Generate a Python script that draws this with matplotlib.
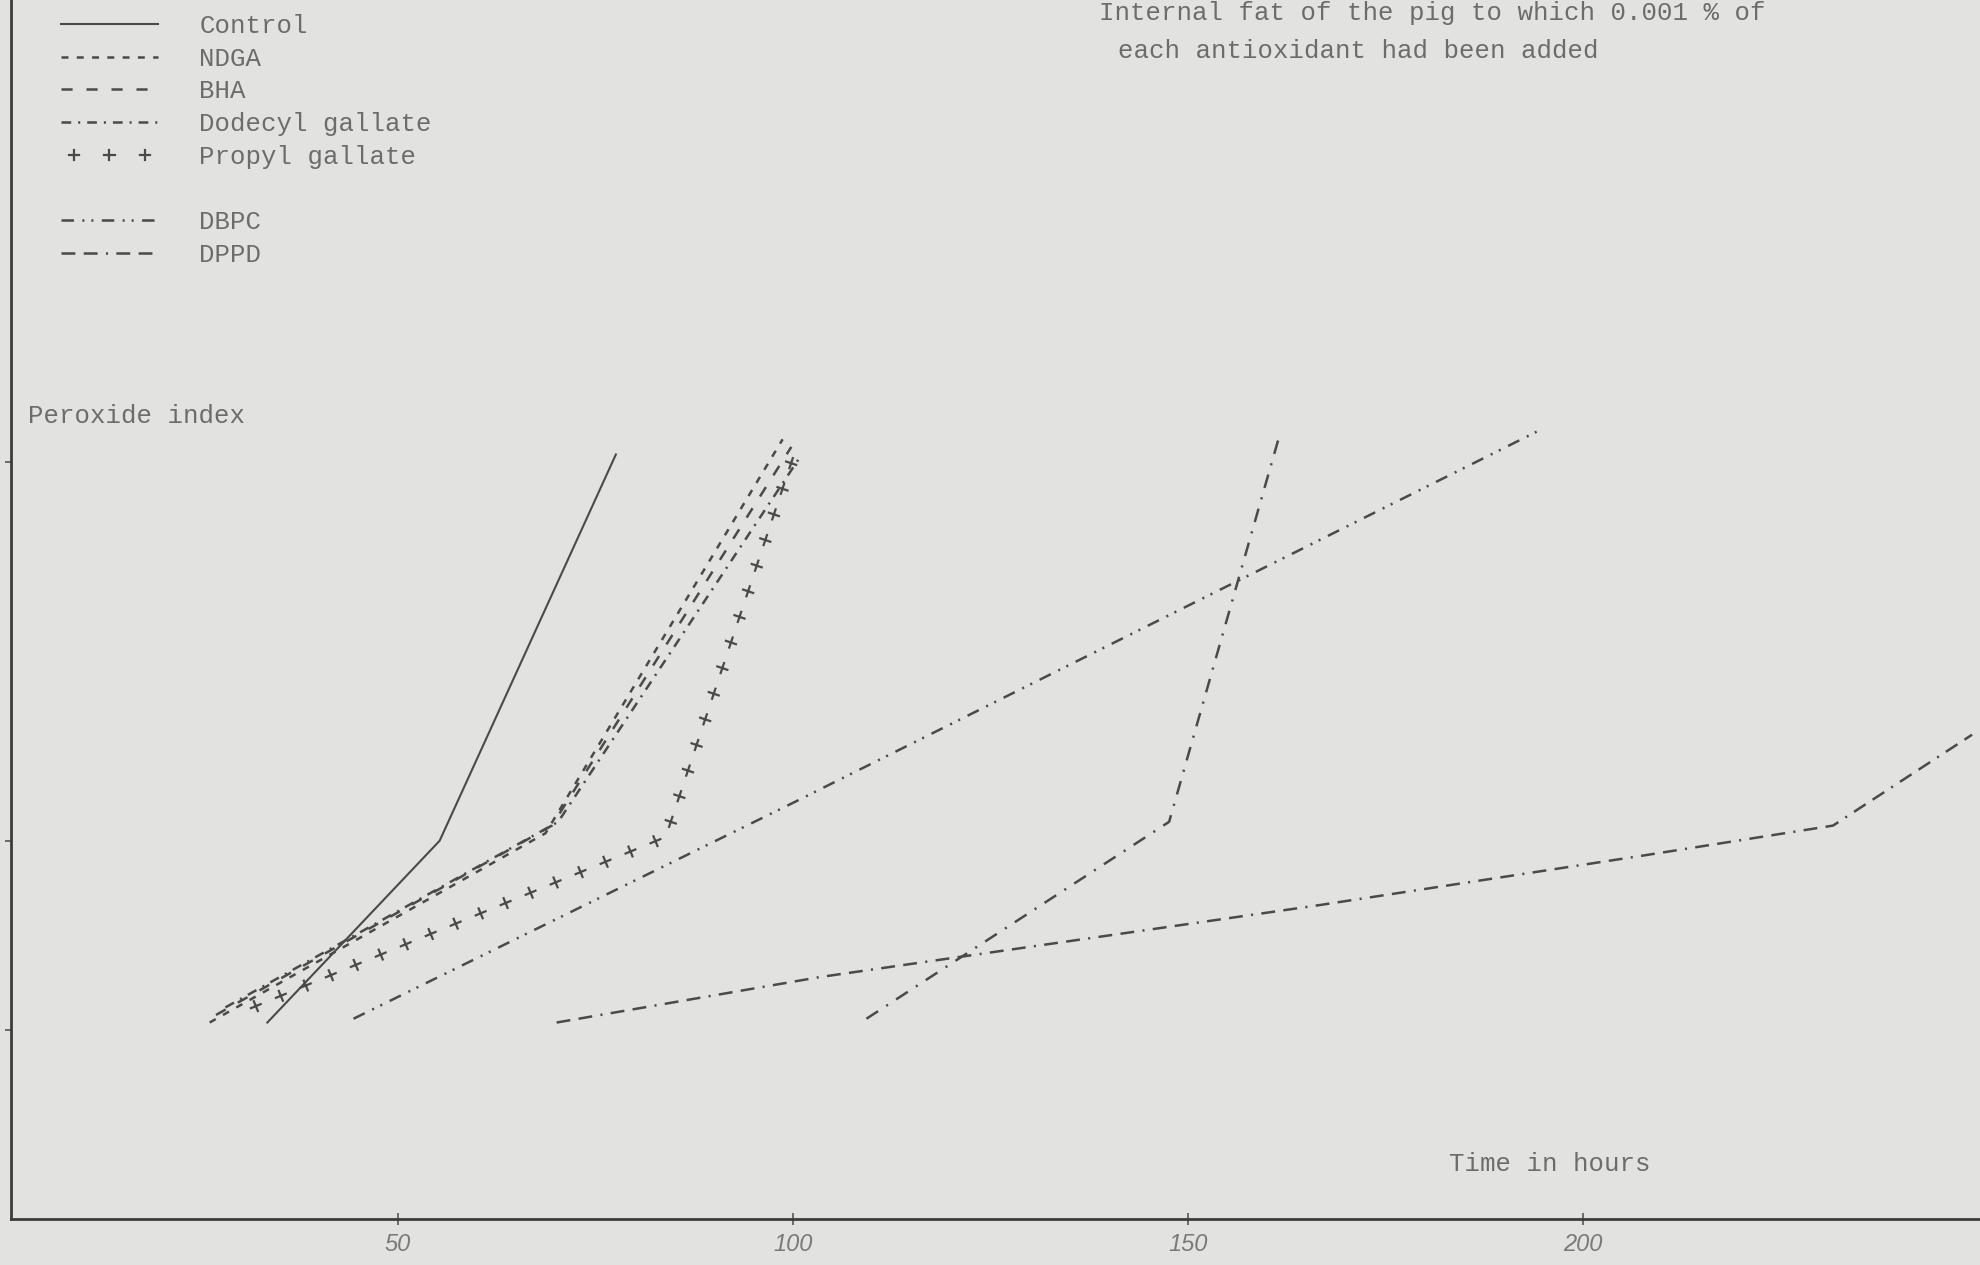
import matplotlib
matplotlib.use("Agg")
import matplotlib.pyplot as plt
import matplotlib.patheffects as pe
from matplotlib.lines import Line2D

# hours on x, peroxide index (arbitrary units) on y
control_t = [33.5, 55.3, 77.6]
control_p = [5.2, 10.0, 20.2]
ndga_t = [26.2, 68.7, 98.7]
ndga_p = [5.2, 10.2, 20.6]
bha_t = [27.0, 69.5, 99.8]
bha_p = [5.4, 10.4, 20.4]
dodecyl_t = [28.2, 70.3, 100.8]
dodecyl_p = [5.6, 10.5, 20.1]
propyl_t = [30.5, 83.9, 100.3]
propyl_p = [5.5, 10.1, 20.3]
dbpc_t = [44.4, 100.0, 194.1]
dbpc_p = [5.3, 11.0, 20.8]
dppd_t = [70.1, 103.4, 166.6, 207.3, 231.6, 249.2]
dppd_p = [5.2, 6.4, 8.3, 9.6, 10.4, 12.8]
# steep curve drawn on the sheet but not listed in the key
extra_t = [109.3, 147.6, 161.7]
extra_p = [5.3, 10.5, 20.8]

x_ticks = [50, 100, 150, 200]
y_ticks = [5, 10, 20]

paper = '#e2e2e0'
ink = '#4a4a4a'
type_ink = '#6c6c6c'
mono = 'Liberation Mono'

plt.rcParams['lines.scale_dashes'] = False

fig = plt.figure(figsize=(19.8, 12.65), dpi=100)
fig.patch.set_facecolor(paper)
ax = fig.add_axes([0.0057, 0.036, 0.9943, 0.964])
ax.set_facecolor(paper)

ax.plot(control_t, control_p, color=ink, lw=1.5, ls='-', label='Control')
ax.plot(ndga_t, ndga_p, color=ink, lw=1.8, ls=(0, (5, 6)), label='NDGA')
ax.plot(bha_t, bha_p, color=ink, lw=1.8, ls=(0, (8, 10)), label='BHA')
ax.plot(dodecyl_t, dodecyl_p, color=ink, lw=1.8, ls=(0, (7, 5, 1.5, 5)),
        label='Dodecyl gallate')

# typed "+" signs along the line
plus = [pe.TickedStroke(spacing=19, angle=a, length=0.2) for a in (0, 90, 180, 270)]
ax.plot(propyl_t, propyl_p, color=ink, lw=1.6, ls='-', path_effects=plus,
        label='Propyl gallate')

blank = Line2D([], [], ls='none', label=' ')

ax.plot(dbpc_t, dbpc_p, color=ink, lw=1.8, ls=(0, (9, 6, 1.5, 5, 1.5, 6)), label='DBPC')
ax.plot(dppd_t, dppd_p, color=ink, lw=1.8, ls=(0, (10, 6, 10, 6, 1.5, 6)), label='DPPD')
ax.plot(extra_t, extra_p, color=ink, lw=1.8, ls=(0, (10, 7, 1.5, 7)), label='_nolegend_')

handles, labels = ax.get_legend_handles_labels()
handles = handles[:5] + [blank] + handles[5:]
labels = labels[:5] + [' '] + labels[5:]
fig.legend(handles, labels, loc='upper left', bbox_to_anchor=(0.0306, 0.989),
           bbox_transform=fig.transFigure, frameon=False, borderpad=0,
           borderaxespad=0, handlelength=3.8, handletextpad=1.6, labelspacing=0.34,
           prop={'family': mono, 'size': 18.5}, labelcolor=type_ink)

ax.set_xlim(1.1, 250.2)
ax.set_ylim(0, 32.2)
for side in ['top', 'right']:
    ax.spines[side].set_visible(False)
for side in ['left', 'bottom']:
    ax.spines[side].set_color('#3c3c3c')
    ax.spines[side].set_linewidth(2.0)

ax.set_xticks(x_ticks)
ax.set_xticklabels([str(t) for t in x_ticks], fontsize=17, style='italic',
                   family='Liberation Sans', color='#7a7a7a')
ax.tick_params(axis='x', direction='inout', length=8, width=1.2, color='#555555', pad=6)
ax.set_yticks(y_ticks)
ax.set_yticklabels([])
ax.tick_params(axis='y', direction='out', length=4, width=1.2, color='#555555')

fig.text(0.555, 0.99, 'Internal fat of the pig to which 0.001 % of',
         family=mono, fontsize=18.5, color=type_ink, va='center', ha='left')
fig.text(0.5644, 0.960, 'each antioxidant had been added',
         family=mono, fontsize=18.5, color=type_ink, va='center', ha='left')
fig.text(0.014, 0.671, 'Peroxide index', family=mono, fontsize=18.5,
         color=type_ink, va='center', ha='left')
fig.text(0.732, 0.080, 'Time in hours', family=mono, fontsize=18.5,
         color=type_ink, va='center', ha='left')

fig.savefig('out.png', dpi=100, facecolor=fig.get_facecolor())
